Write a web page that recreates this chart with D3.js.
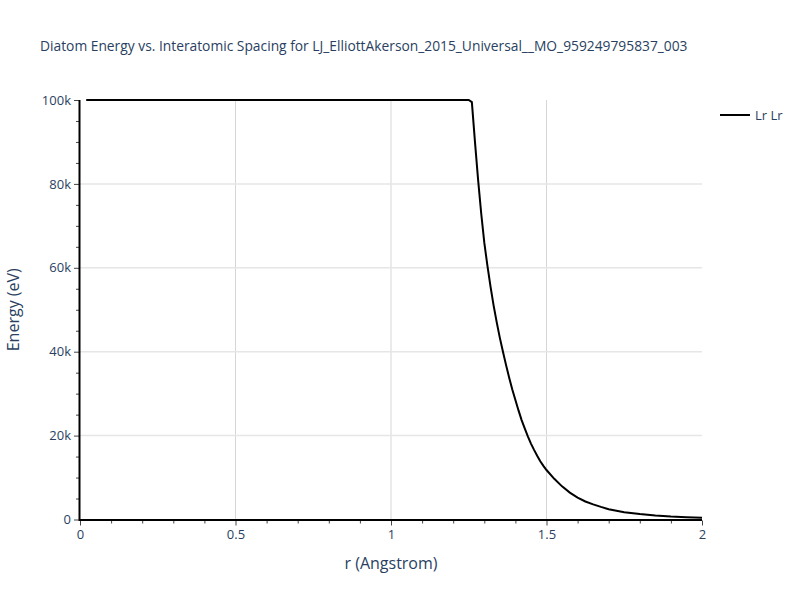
<!DOCTYPE html>
<html>
<head>
<meta charset="utf-8">
<script src="https://cdn.jsdelivr.net/npm/d3@7"></script>
<style>
  body { margin: 0; background: #fff; }
  text { font-family: "Open Sans", "Noto Sans", sans-serif; }
</style>
</head>
<body>
<svg id="chart"></svg>
<script>
let w = 800;
let h = 600;
let margin = {left: 80, right: 98, top: 100, bottom: 80.5};

// values
let rValues = [0.02, 1.25, 1.26, 1.27, 1.28, 1.29, 1.30, 1.31, 1.32, 1.33, 1.34, 1.35, 1.36, 1.37, 1.38, 1.39,
               1.40, 1.41, 1.42, 1.43, 1.44, 1.45, 1.46, 1.47, 1.48, 1.49, 1.50,
               1.525, 1.55, 1.575, 1.60, 1.625, 1.65, 1.675, 1.70, 1.75, 1.80, 1.85, 1.90, 1.95, 2.00];
let energyValues = [100000, 100000, 99500, 90000, 81000, 73000, 66000, 60500, 55500, 51000, 47000, 43300, 40000, 36800, 33800, 31000,
                    28500, 26000, 23700, 21700, 19800, 18100, 16600, 15200, 13900, 12800, 11800,
                    9700, 7900, 6400, 5200, 4300, 3600, 3000, 2450, 1750, 1300, 950, 700, 540, 430];
let xTicks = [0, 0.5, 1, 1.5, 2];
let yTicks = [0, 20000, 40000, 60000, 80000, 100000];
let seriesName = "Lr Lr";

let textColor = "#2a3f5f";

let svg = d3.select("#chart")
    .attr("width", w)
    .attr("height", h);

let xScale = d3.scaleLinear()
    .domain([0, 2])
    .range([margin.left, w - margin.right]);
let yScale = d3.scaleLinear()
    .domain([0, 100000])
    .range([h - margin.bottom, margin.top]);

// grid
svg.append("g")
    .selectAll("line")
    .data(xTicks.filter(d => d > 0 && d < 2))
    .enter()
    .append("line")
        .attr("x1", d => xScale(d)).attr("x2", d => xScale(d))
        .attr("y1", margin.top).attr("y2", h - margin.bottom)
        .style("stroke", "#d6d6d6")
        .style("stroke-width", 1);

svg.append("g")
    .selectAll("line")
    .data(yTicks.filter(d => d > 0 && d < 100000))
    .enter()
    .append("line")
        .attr("x1", margin.left).attr("x2", w - margin.right)
        .attr("y1", d => yScale(d)).attr("y2", d => yScale(d))
        .style("stroke", "#e6e6e6")
        .style("stroke-width", 1.5);

// minor ticks
let xMinor = d3.range(0, 2.0001, 0.1).filter(d => Math.abs(d * 2 - Math.round(d * 2)) > 1e-6);
let yMinor = d3.range(0, 100001, 5000).filter(d => d % 20000 !== 0);

let xAxis = d3.axisBottom(xScale)
    .tickValues(xTicks)
    .tickFormat(d3.format("~g"))
    .tickSize(5)
    .tickPadding(4);
let yAxis = d3.axisLeft(yScale)
    .tickValues(yTicks)
    .tickFormat(d => d === 0 ? "0" : (d / 1000) + "k")
    .tickSize(5)
    .tickPadding(3);

let xMinorAxis = d3.axisBottom(xScale).tickValues(xMinor).tickFormat("").tickSize(3);
let yMinorAxis = d3.axisLeft(yScale).tickValues(yMinor).tickFormat("").tickSize(3);

function styleAxis(g) {
    g.select(".domain").remove();
    g.selectAll(".tick line").style("stroke", "#444").style("stroke-width", 1);
    g.selectAll(".tick text")
        .style("fill", textColor)
        .style("font-size", "13px")
        .style("font-family", "'Open Sans', 'Noto Sans', sans-serif");
}

svg.append("g")
    .attr("transform", `translate(0, ${h - margin.bottom + 1})`)
    .call(xMinorAxis).call(styleAxis);
svg.append("g")
    .attr("transform", `translate(0, ${h - margin.bottom + 1})`)
    .call(xAxis).call(styleAxis);
svg.append("g")
    .attr("transform", `translate(${margin.left - 1}, 0)`)
    .call(yMinorAxis).call(styleAxis);
svg.append("g")
    .attr("transform", `translate(${margin.left - 1}, 0)`)
    .call(yAxis).call(styleAxis);

// axis lines
svg.append("line")
    .attr("x1", margin.left - 1).attr("x2", w - margin.right)
    .attr("y1", h - margin.bottom + 0.5).attr("y2", h - margin.bottom + 0.5)
    .style("stroke", "#000").style("stroke-width", 2);
svg.append("line")
    .attr("x1", margin.left - 0.5).attr("x2", margin.left - 0.5)
    .attr("y1", margin.top).attr("y2", h - margin.bottom + 1.5)
    .style("stroke", "#000").style("stroke-width", 2);

// series line
let line = d3.line()
    .x((d, i) => xScale(rValues[i]))
    .y(d => yScale(d));

svg.append("path")
    .datum(energyValues)
    .attr("d", line)
    .style("fill", "none")
    .style("stroke", "#000")
    .style("stroke-width", 2);

// title
svg.append("text")
    .attr("x", 40)
    .attr("y", 51)
    .style("font-size", "13.8px")
    .style("fill", textColor)
    .text("Diatom Energy vs. Interatomic Spacing for LJ_ElliottAkerson_2015_Universal__MO_959249795837_003");

// axis titles
svg.append("text")
    .attr("x", xScale(1))
    .attr("y", 569)
    .attr("text-anchor", "middle")
    .style("font-size", "16px")
    .style("fill", textColor)
    .text("r (Angstrom)");

svg.append("text")
    .attr("transform", `translate(19, ${yScale(50000)}) rotate(-90)`)
    .attr("text-anchor", "middle")
    .style("font-size", "16px")
    .style("fill", textColor)
    .text("Energy (eV)");

// legend
let legend = svg.append("g").attr("transform", "translate(720, 115)");
legend.append("line")
    .attr("x1", 0).attr("x2", 30)
    .attr("y1", 0).attr("y2", 0)
    .style("stroke", "#000").style("stroke-width", 2);
legend.append("text")
    .attr("x", 35)
    .attr("y", 4.5)
    .style("font-size", "13px")
    .style("fill", textColor)
    .text(seriesName);
</script>
</body>
</html>
